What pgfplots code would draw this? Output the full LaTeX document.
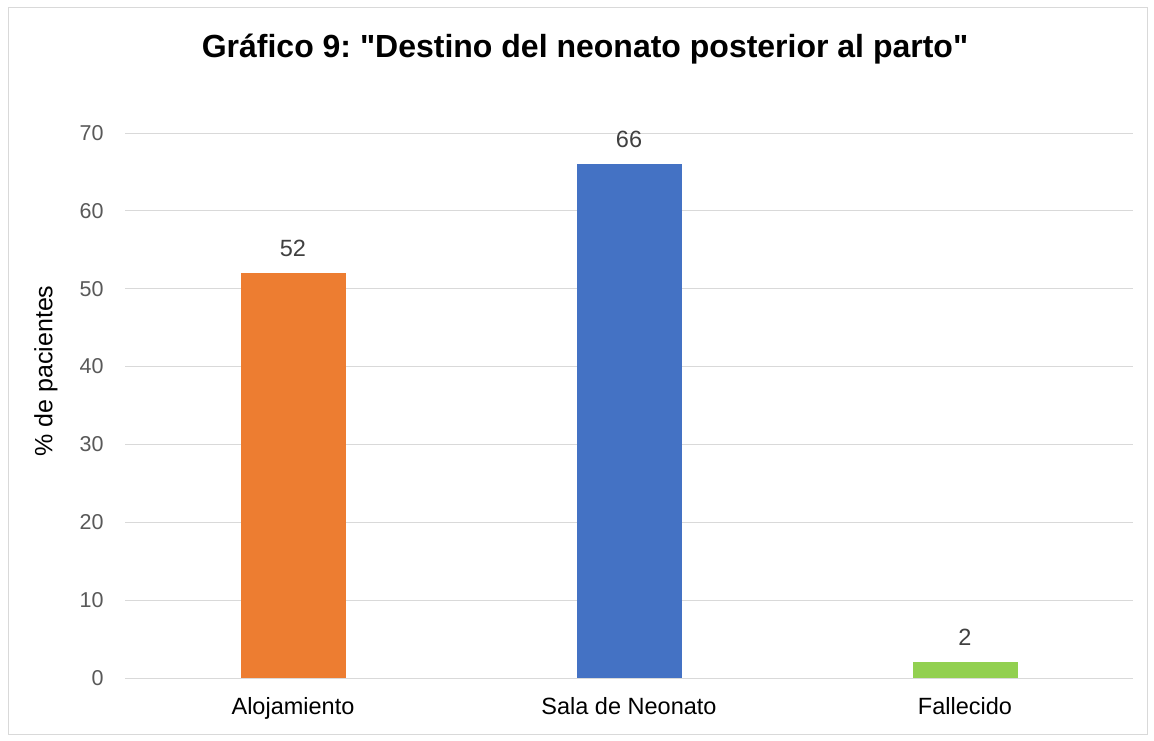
\documentclass[border=0pt]{standalone}
\usepackage{pgfplots}
\pgfplotsset{compat=1.18}
\usepackage{fontspec}
\setmainfont{Liberation Sans}[Ligatures=TeXOff]
\frenchspacing
\definecolor{cOr}{HTML}{ED7D31}
\definecolor{cBl}{HTML}{4472C4}
\definecolor{cGr}{HTML}{92D050}
\definecolor{tickc}{HTML}{595959}
\definecolor{lblc}{HTML}{404040}
\definecolor{gridc}{HTML}{D9D9D9}
\begin{document}
\begin{tikzpicture}[x=1pt,y=1pt]
\useasboundingbox (0,0) rectangle (1154,740);
\fill[white] (0,0) rectangle (1154,740);
\draw[gridc, line width=1pt] (8,6) rectangle (1147,732);
\node[font=\fontsize{32}{36}\selectfont\bfseries, anchor=center] at (585,691) {Gráfico 9: "Destino del neonato posterior al parto"};
\node[font=\fontsize{25}{28}\selectfont, rotate=90, anchor=center] at (46,369) {\% de pacientes};
\begin{axis}[
  at={(125pt,62pt)}, anchor=south west,
  scale only axis, width=1008pt, height=545pt,
  xmin=-0.5, xmax=2.5, ymin=0, ymax=70,
  ytick={0,10,...,70},
  xtick={0,1,2},
  xticklabels={Alojamiento,Sala de Neonato,Fallecido},
  separate axis lines,
  axis x line*=bottom, axis y line*=left,
  y axis line style={draw=none},
  x axis line style={gridc, line width=1pt, -},
  tick style={draw=none},
  ymajorgrids, grid style={gridc, line width=1pt},
  /pgf/number format/assume math mode=true,
  yticklabel style={font=\fontsize{21.5}{24}\selectfont, text=tickc, xshift=-18pt},
  xticklabel style={font=\fontsize{23.5}{26}\selectfont, text=black, yshift=-12pt},
  ybar, bar width=105pt, bar shift=0pt,
  nodes near coords,
  nodes near coords style={font=\fontsize{23.5}{26}\selectfont, text=lblc, yshift=13pt},
]
\addplot[draw=none, fill=cOr] coordinates {(0,52)};
\addplot[draw=none, fill=cBl] coordinates {(1,66)};
\addplot[draw=none, fill=cGr] coordinates {(2,2)};
\end{axis}
\end{tikzpicture}
\end{document}
